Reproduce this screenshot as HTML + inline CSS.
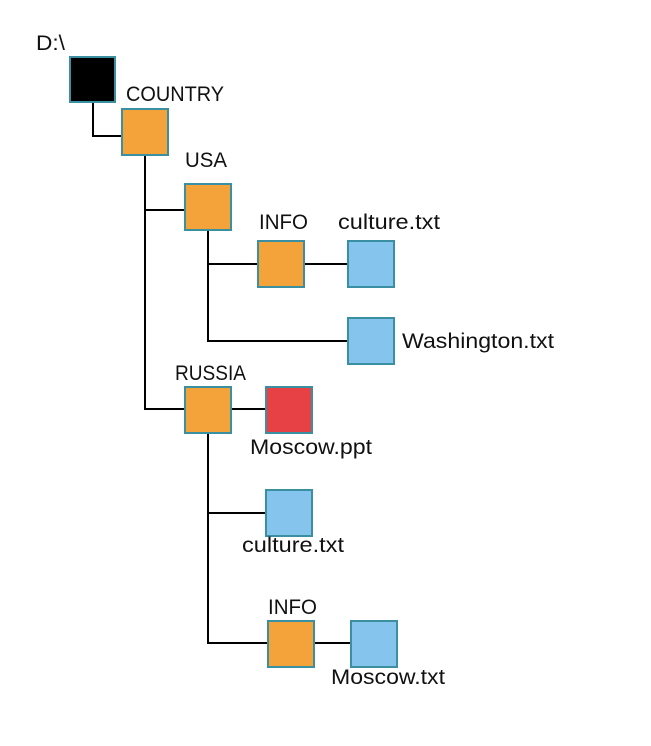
<!DOCTYPE html>
<html><head><meta charset="utf-8"><style>
html,body{margin:0;padding:0;background:#fff;}
svg{display:block;}
text{font-family:"Liberation Sans",sans-serif;font-size:21px;fill:#111;}
</style></head><body>
<svg width="651" height="746" viewBox="0 0 651 746" xmlns="http://www.w3.org/2000/svg">
<g stroke="#000" stroke-width="2" fill="none">
<path d="M93 102V136H122"/>
<path d="M145 155V409H185M145 210H184"/>
<path d="M208 230V341H348M208 264H258M304 264H348"/>
<path d="M231 409H265"/>
<path d="M208 433V643H268M208 513H266M314 643H351"/>
</g>
<g stroke="#3a8fa0" stroke-width="2">
<rect x="70" y="57" width="45" height="45" fill="#000"/>
<rect x="122" y="109" width="46" height="46" fill="#f4a33a"/>
<rect x="185" y="184" width="46" height="46" fill="#f4a33a"/>
<rect x="258" y="241" width="46" height="46" fill="#f4a33a"/>
<rect x="348" y="241" width="46" height="46" fill="#85c4ec"/>
<rect x="348" y="318" width="46" height="46" fill="#85c4ec"/>
<rect x="185" y="387" width="46" height="46" fill="#f4a33a"/>
<rect x="266" y="387" width="46" height="46" fill="#e84145"/>
<rect x="266" y="490" width="46" height="46" fill="#85c4ec"/>
<rect x="268" y="621" width="46" height="46" fill="#f4a33a"/>
<rect x="351" y="621" width="46" height="46" fill="#85c4ec"/>
</g>
<text x="36" y="50" textLength="29" lengthAdjust="spacingAndGlyphs">D:\</text>
<text x="126" y="101" textLength="98" lengthAdjust="spacingAndGlyphs">COUNTRY</text>
<text x="185" y="167" textLength="42" lengthAdjust="spacingAndGlyphs">USA</text>
<text x="259" y="229" textLength="49" lengthAdjust="spacingAndGlyphs">INFO</text>
<text x="338" y="229" textLength="102" lengthAdjust="spacingAndGlyphs">culture.txt</text>
<text x="402" y="348" textLength="152" lengthAdjust="spacingAndGlyphs">Washington.txt</text>
<text x="175" y="380" textLength="71" lengthAdjust="spacingAndGlyphs">RUSSIA</text>
<text x="250" y="454" textLength="122" lengthAdjust="spacingAndGlyphs">Moscow.ppt</text>
<text x="242" y="552" textLength="102" lengthAdjust="spacingAndGlyphs">culture.txt</text>
<text x="268" y="614" textLength="49" lengthAdjust="spacingAndGlyphs">INFO</text>
<text x="331" y="684" textLength="114" lengthAdjust="spacingAndGlyphs">Moscow.txt</text>
</svg>
</body></html>
